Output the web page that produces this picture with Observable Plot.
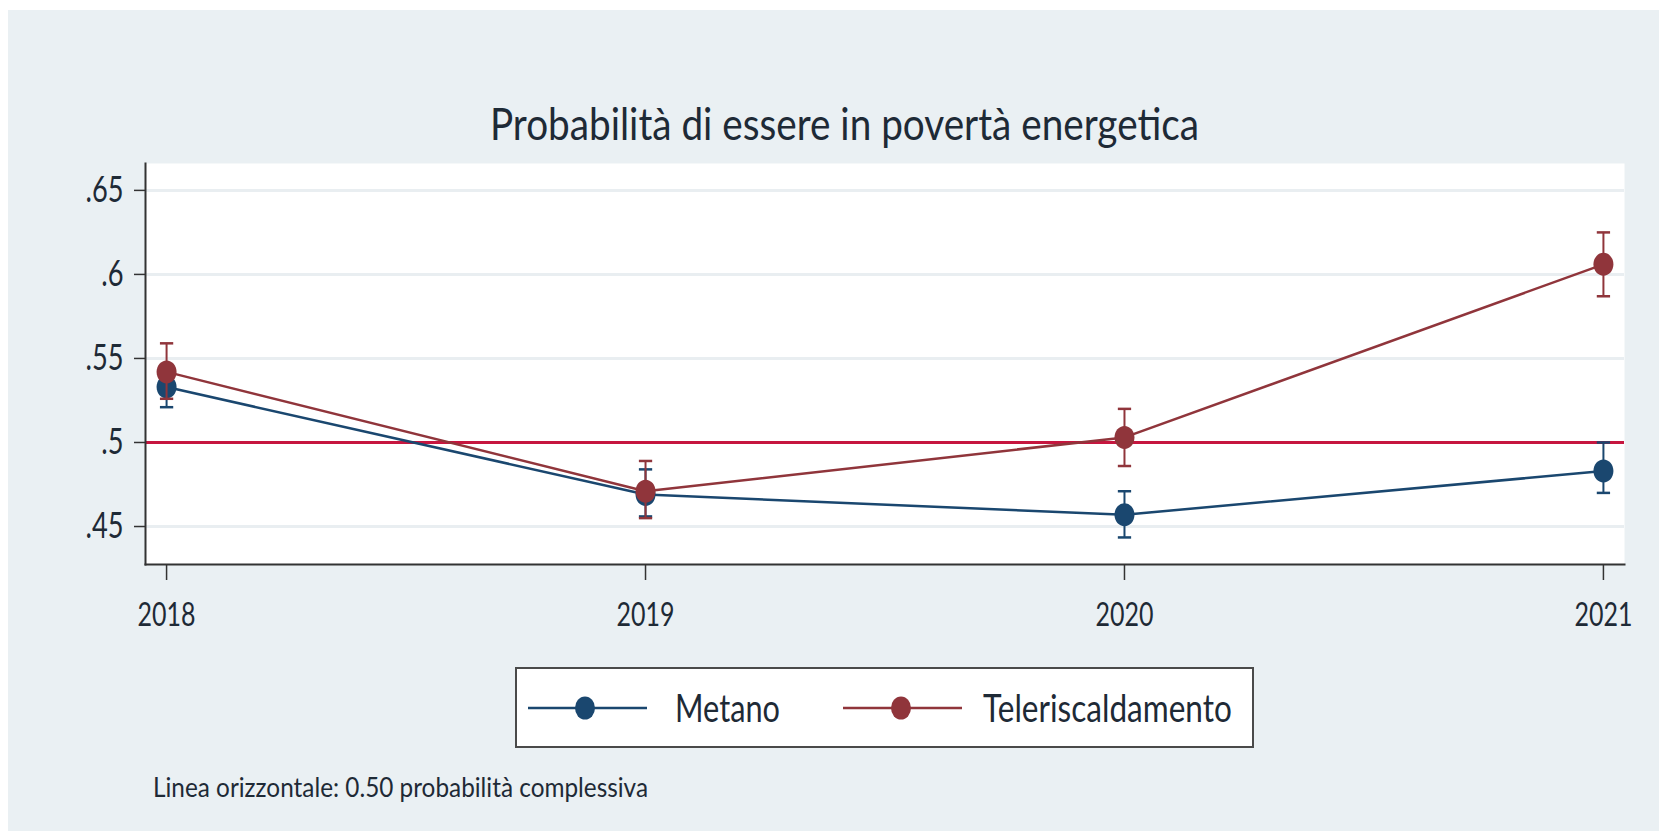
<!DOCTYPE html>
<html><head><meta charset="utf-8">
<script src="https://cdn.jsdelivr.net/npm/d3@7"></script>
<script src="https://cdn.jsdelivr.net/npm/@observablehq/plot@0.6"></script>
<style>
html,body{margin:0;padding:0;background:#fff;}
#wrap{position:relative;width:1659px;height:831px;overflow:hidden;font-family:Lato,"Open Sans",sans-serif;}
#bg{position:absolute;left:8px;top:10px;width:1651px;height:821px;background:#eaf0f3;}
.txt{position:absolute;white-space:nowrap;color:#1e2a36;line-height:1;display:inline-block;transform-origin:0 50%;}
#chart{position:absolute;left:0;top:150px;}
#legend{position:absolute;left:515px;top:667px;width:739px;height:81px;background:#fff;border:2px solid #4a4a4a;box-sizing:border-box;}
#legend svg{position:absolute;left:0;top:0;}
</style></head><body>
<div id="wrap"><div id="bg"></div>
<div id="title" class="txt" style="font-size:44px;">Probabilità di essere in povertà energetica</div>
<div id="chart"></div>
<div id="legend"></div>
<div id="caption" class="txt" style="font-size:26px;">Linea orizzontale: 0.50 probabilità complessiva</div>
</div>
<script>
// ---- data ----
const years = [2018, 2019, 2020, 2021];
const seriesNames = ["Metano", "Teleriscaldamento"];
const metano   = [0.533, 0.469, 0.457, 0.483];
const metanoLo = [0.521, 0.456, 0.4435, 0.470];
const metanoHi = [0.545, 0.484, 0.471, 0.500];
const tele     = [0.542, 0.471, 0.503, 0.606];
const teleLo   = [0.526, 0.455, 0.486, 0.587];
const teleHi   = [0.559, 0.489, 0.520, 0.625];
const refValue = [0.5];
const yTicks = [0.45, 0.5, 0.55, 0.6, 0.65];
const yTickLabels = [".45", ".5", ".55", ".6", ".65"];
const xTickLabels = ["2018", "2019", "2020", "2021"];

// ---- styles ----
const colors = {Metano: "#1a476f", Teleriscaldamento: "#90353b"};
const refColor = "#c6163f";

const build = (name, v, lo, hi) => years.map((year, i) => ({series: name, year, value: v[i], lo: lo[i], hi: hi[i]}));
const dataM = build(seriesNames[0], metano, metanoLo, metanoHi);
const dataT = build(seriesNames[1], tele, teleLo, teleHi);

const capSymbol = {draw(ctx, size) { const w = Math.sqrt(size) / 2; ctx.moveTo(-w, 0); ctx.lineTo(w, 0); }};
const ellipse = {draw(ctx, size) {
  const rx = Math.sqrt(size / Math.PI), ry = rx * 1.15, k = 0.5523;
  ctx.moveTo(rx, 0);
  ctx.bezierCurveTo(rx, ry * k, rx * k, ry, 0, ry);
  ctx.bezierCurveTo(-rx * k, ry, -rx, ry * k, -rx, 0);
  ctx.bezierCurveTo(-rx, -ry * k, -rx * k, -ry, 0, -ry);
  ctx.bezierCurveTo(rx * k, -ry, rx, -ry * k, rx, 0);
  ctx.closePath();
}};

const seriesMarks = (data, color) => [
  Plot.ruleX(data, {x: "year", y1: "lo", y2: "hi", stroke: color, strokeWidth: 2}),
  Plot.dot(data, {x: "year", y: "lo", symbol: capSymbol, r: 7.5, stroke: color, fill: "none", strokeWidth: 2.5}),
  Plot.dot(data, {x: "year", y: "hi", symbol: capSymbol, r: 7.5, stroke: color, fill: "none", strokeWidth: 2.5}),
  Plot.line(data, {x: "year", y: "value", stroke: color, strokeWidth: 2.5}),
  Plot.dot(data, {x: "year", y: "value", symbol: ellipse, r: 10, fill: color, stroke: "none"})
];

const plot = Plot.plot({
  width: 1659, height: 500,
  marginLeft: 145, marginRight: 35, marginTop: 13, marginBottom: 86,
  style: {background: "transparent", fontFamily: "Lato, 'Open Sans', sans-serif", color: "#1e2a36"},
  x: {type: "linear", domain: [2017.956, 2021.044]},
  y: {domain: [0.4274, 0.666]},
  marks: [
    Plot.frame({fill: "white", stroke: "none"}),
    Plot.gridY(yTicks, {stroke: "#e9eef1", strokeOpacity: 1, strokeWidth: 3}),
    Plot.ruleY(refValue, {stroke: refColor, strokeWidth: 3}),
    Plot.axisY(yTicks, {tickSize: 11, tickPadding: 11, fontSize: 36, stroke: "#333", strokeWidth: 1.5, label: null,
      tickFormat: d => yTickLabels[yTicks.indexOf(d)]}),
    Plot.axisX(years, {tickSize: 16, tickPadding: 22, fontSize: 33, stroke: "#333", strokeWidth: 1.5, label: null,
      tickFormat: d => xTickLabels[years.indexOf(d)]}),
    Plot.frame({anchor: "left", stroke: "#333", strokeWidth: 2}),
    Plot.frame({anchor: "bottom", stroke: "#333", strokeWidth: 2}),
    ...seriesMarks(dataM, colors.Metano),
    ...seriesMarks(dataT, colors.Teleriscaldamento)
  ]
});
document.getElementById("chart").appendChild(plot);

// condense tick labels horizontally to match the narrow reference typeface
function condense(selector, refText, target) {
  const texts = [...plot.querySelectorAll(selector)];
  const ref = texts.find(t => t.textContent === refText) || texts[0];
  if (!ref) return;
  const s = target / ref.getBBox().width;
  texts.forEach(t => t.setAttribute("transform", (t.getAttribute("transform") || "") + ` scale(${s},1)`));
}
condense('g[aria-label="y-axis tick label"] text', ".65", 38);
condense('g[aria-label="x-axis tick label"] text', "2018", 58);

// HTML texts fitted to measured widths
function fit(id, left, right, centerY, fs) {
  const el = document.getElementById(id);
  const w = el.getBoundingClientRect().width;
  el.style.left = left + "px";
  el.style.top = (centerY - fs * 0.55) + "px";
  el.style.transform = `scaleX(${(right - left) / w})`;
}
fit("title", 490, 1199, 125, 44);
fit("caption", 153, 648, 788, 26);

// legend
const lg = d3.select("#legend").append("svg").attr("width", 735).attr("height", 77)
  .style("font-family", "Lato, 'Open Sans', sans-serif");
const items = [
  {name: seriesNames[0], x0: 11, x1: 130, mx: 68, tx: 158, tw: 105},
  {name: seriesNames[1], x0: 326, x1: 445, mx: 384, tx: 466, tw: 249}
];
const cy = 39;
items.forEach(it => {
  const c = colors[it.name];
  lg.append("line").attr("x1", it.x0).attr("x2", it.x1).attr("y1", cy).attr("y2", cy).attr("stroke", c).attr("stroke-width", 2.5);
  lg.append("ellipse").attr("cx", it.mx).attr("cy", cy).attr("rx", 10).attr("ry", 11.5).attr("fill", c);
  const t = lg.append("text").attr("x", it.tx).attr("y", cy).attr("dy", "0.36em").attr("font-size", 38).attr("fill", "#1e2a36").text(it.name);
  const w = t.node().getBBox().width;
  t.attr("transform", `translate(${it.tx},0) scale(${it.tw / w},1) translate(${-it.tx},0)`);
});
</script>
</body></html>
